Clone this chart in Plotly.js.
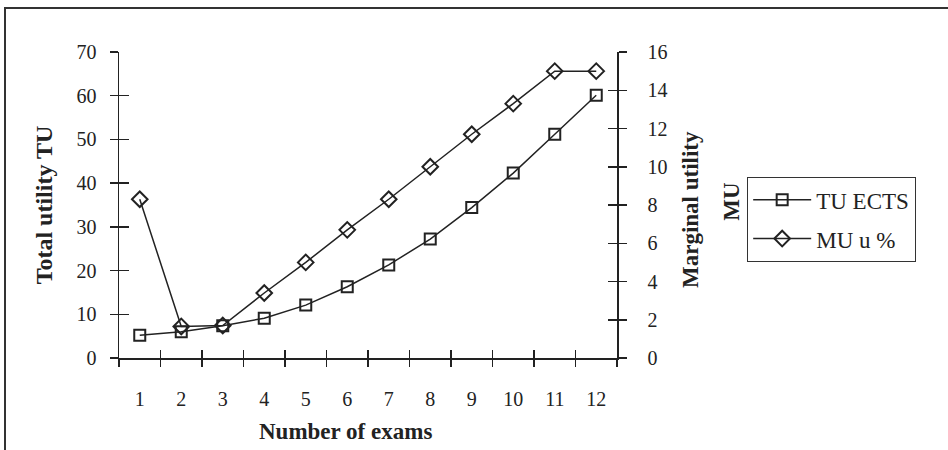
<!DOCTYPE html>
<html>
<head>
<meta charset="utf-8">
<script src="https://cdn.plot.ly/plotly-3.0.1.min.js"></script>
<style>
  html, body { margin: 0; padding: 0; background: #fff; overflow: hidden; }
  #chart { position: absolute; left: 0; top: 0; width: 948px; height: 450px; }
  #frame { position: absolute; left: 4px; top: 7px; width: 960px; height: 460px;
           border-top: 2px solid #333; border-left: 2px solid #333; pointer-events: none; }
</style>
</head>
<body>
<div id="chart"></div>
<div id="frame"></div>
<script>
const exams = ["1","2","3","4","5","6","7","8","9","10","11","12"];
const tuEcts = [5.2, 6.0, 7.4, 9.1, 12.1, 16.3, 21.3, 27.2, 34.4, 42.3, 51.2, 60.1];
const muPct = [8.3, 1.65, 1.7, 3.4, 5.0, 6.7, 8.3, 10.0, 11.7, 13.3, 15.0, 15.0];
const leftTicks = [0, 10, 20, 30, 40, 50, 60, 70];
const rightTicks = [0, 2, 4, 6, 8, 10, 12, 14, 16];

const FONT = "'Liberation Serif', 'Times New Roman', serif";
const INK = "#222";

const traces = [
  {
    x: exams, y: tuEcts, name: "TU ECTS", type: "scatter", mode: "lines+markers",
    xaxis: "x", yaxis: "y", legendgroup: "a",
    line: { color: INK, width: 1.5 },
    marker: { symbol: "square-open", size: 11, color: INK, line: { width: 2, color: INK } }
  },
  {
    x: exams, y: muPct, name: "MU u %", type: "scatter", mode: "lines+markers",
    xaxis: "x", yaxis: "y2", legendgroup: "b",
    line: { color: INK, width: 1.5 },
    marker: { symbol: "diamond-open", size: 12, color: INK, line: { width: 2, color: INK } }
  }
];

const tickFont = { family: FONT, size: 20, color: INK };
const titleFont = { family: FONT, size: 23, color: INK, weight: "bold" };
const leftTitleFont = { family: FONT, size: 24, color: INK, weight: "bold" };

const layout = {
  width: 948, height: 450,
  margin: { l: 119, r: 331, t: 52, b: 92 },
  paper_bgcolor: "#fff", plot_bgcolor: "#fff",
  showlegend: true,
  legend: {
    x: 1.261, y: 0.5915, xanchor: "left", yanchor: "top",
    bordercolor: "#333", borderwidth: 1.2, bgcolor: "#fff",
    font: { family: FONT, size: 23, color: INK },
    traceorder: "grouped", tracegroupgap: 6, itemwidth: 58
  },
  xaxis: {
    type: "category", tickson: "boundaries", range: [-0.5, 11.5],
    showline: true, linecolor: INK, linewidth: 1.5,
    ticks: "outside", ticklen: 7, tickwidth: 1.5, tickcolor: INK,
    ticklabelstandoff: 22, tickfont: tickFont,
    showgrid: false, zeroline: false, fixedrange: true
  },
  xaxis2: {
    type: "category", tickson: "boundaries", range: [-0.5, 11.5], overlaying: "x",
    matches: "x", ticks: "inside", ticklen: 8, tickwidth: 1.5, tickcolor: INK,
    showticklabels: false, showgrid: false, zeroline: false, showline: false
  },
  yaxis: {
    range: [0, 70], tickvals: leftTicks, ticktext: leftTicks.map(String),
    showline: true, linecolor: INK, linewidth: 1.5,
    ticks: "outside", ticklen: 8, tickwidth: 1.5, tickcolor: INK,
    ticklabelstandoff: 9, tickfont: tickFont,
    showgrid: false, zeroline: false,
    title: { text: "Total utility TU", font: leftTitleFont, standoff: 17 }
  },
  yaxis3: {
    range: [0, 70], overlaying: "y", side: "left", tickvals: leftTicks,
    ticks: "inside", ticklen: 10, tickwidth: 1.5, tickcolor: INK,
    showticklabels: false, showgrid: false, zeroline: false, showline: false
  },
  yaxis2: {
    range: [0, 16], overlaying: "y", side: "right", tickvals: rightTicks,
    ticktext: rightTicks.map(String),
    showline: true, linecolor: INK, linewidth: 1.5,
    ticks: "outside", ticklen: 8, tickwidth: 1.5, tickcolor: INK,
    ticklabelstandoff: 17, tickfont: tickFont,
    showgrid: false, zeroline: false
  },
  yaxis4: {
    range: [0, 16], overlaying: "y", side: "right", tickvals: rightTicks,
    ticks: "inside", ticklen: 9, tickwidth: 1.5, tickcolor: INK,
    showticklabels: false, showgrid: false, zeroline: false, showline: false
  },
  annotations: [
    { text: "Number of exams", xref: "paper", yref: "paper", x: 0.4548, y: -0.2418,
      xanchor: "center", yanchor: "middle", showarrow: false, font: titleFont },
    { text: "Marginal utility", xref: "paper", yref: "paper", x: 1.1486, y: 0.4837,
      xanchor: "center", yanchor: "middle", textangle: -90, showarrow: false, font: titleFont },
    { text: "MU", xref: "paper", yref: "paper", x: 1.231, y: 0.5108,
      xanchor: "center", yanchor: "middle", textangle: -90, showarrow: false, font: titleFont }
  ]
};

// invisible helper traces so the overlay tick axes render
traces.push({ x: exams, y: tuEcts, xaxis: "x2", yaxis: "y3", type: "scatter", mode: "none",
  showlegend: false, hoverinfo: "skip" });
traces.push({ x: exams, y: muPct, xaxis: "x2", yaxis: "y4", type: "scatter", mode: "none",
  showlegend: false, hoverinfo: "skip" });

Plotly.newPlot("chart", traces, layout, { staticPlot: true, displayModeBar: false });
</script>
</body>
</html>
